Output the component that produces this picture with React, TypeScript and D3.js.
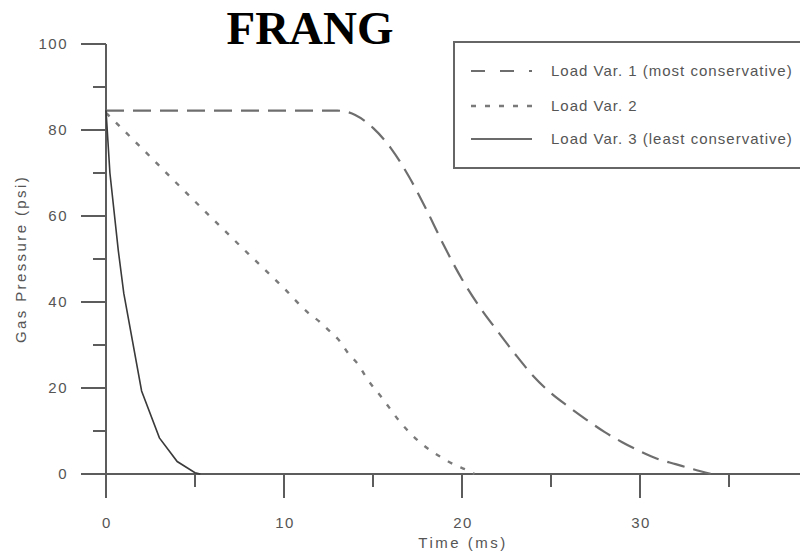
import React, { useEffect, useRef } from "react";
import * as d3 from "d3";

// Gas pressure histories (time in ms, pressure in psi)
const var1Time = [0, 13, 14, 15, 16, 17, 18, 19, 20, 21, 22, 23, 24, 25, 26, 27, 28, 29, 30, 31, 32, 33, 34];
const var1Pressure = [84.5, 84.5, 83.5, 80.5, 75.8, 69.3, 61.5, 53, 45.3, 38.8, 33.2, 27.8, 22.8, 18.8, 15.6, 12.6, 9.8, 7.4, 5.3, 3.5, 2.3, 1.1, 0];

const var2Time = [0, 2, 4, 6, 8, 10, 11.3, 12, 12.6, 13.15, 13.6, 14.2, 14.6, 15.6, 16.5, 17.6, 18.95, 19.7, 20.45, 20.7];
const var2Pressure = [84, 75.8, 67.5, 59.3, 51.2, 43.2, 37.7, 35.4, 33.1, 30.8, 28.1, 25.3, 22.6, 17.2, 12.2, 7.5, 3.6, 1.9, 0.6, 0];

const var3Time = [0, 0.22, 0.69, 1, 2, 3, 4, 5, 5.3];
const var3Pressure = [84.6, 70, 52, 42, 19.3, 8.4, 2.9, 0.3, 0];

const seriesNames = [
  "Load Var. 1 (most conservative)",
  "Load Var. 2",
  "Load Var. 3 (least conservative)",
];

const xMajorTicks = [0, 10, 20, 30];
const xMinorTicks = [5, 15, 25, 35];
const yMajorTicks = [0, 20, 40, 60, 80, 100];
const yMinorTicks = [10, 30, 50, 70, 90];

const titleText = "FRANG";
const xLabel = "Time (ms)";
const yLabel = "Gas Pressure (psi)";

export default function App() {
  const ref = useRef<SVGSVGElement>(null);

  useEffect(() => {
    const svg = d3.select(ref.current);
    svg.selectAll("*").remove();

    const x = d3.scaleLinear().domain([0, 40]).range([106, 818]);
    const y = d3.scaleLinear().domain([0, 100]).range([474, 44]);

    const axisColor = "#5c5c5c";
    const textColor = "#555";
    const font = "'Liberation Sans', Arial, sans-serif";

    svg.append("rect").attr("width", 800).attr("height", 555).attr("fill", "#fff");

    // Title
    svg
      .append("text")
      .attr("x", 310)
      .attr("y", 44)
      .attr("text-anchor", "middle")
      .attr("font-family", "'Liberation Serif', 'Times New Roman', serif")
      .attr("font-weight", "bold")
      .attr("font-size", 47)
      .attr("fill", "#000")
      .text(titleText);

    const g = svg.append("g");

    // Y axis line and ticks
    g.append("line")
      .attr("x1", x(0)).attr("x2", x(0))
      .attr("y1", y(100)).attr("y2", y(0) + 24)
      .attr("stroke", axisColor).attr("stroke-width", 2);

    g.selectAll(".ymaj")
      .data(yMajorTicks)
      .join("line")
      .attr("x1", x(0) - 25).attr("x2", x(0))
      .attr("y1", (d) => y(d)).attr("y2", (d) => y(d))
      .attr("stroke", axisColor).attr("stroke-width", 2);

    g.selectAll(".ymin")
      .data(yMinorTicks)
      .join("line")
      .attr("x1", x(0) - 13).attr("x2", x(0))
      .attr("y1", (d) => y(d)).attr("y2", (d) => y(d))
      .attr("stroke", axisColor).attr("stroke-width", 2);

    g.selectAll(".ylab")
      .data(yMajorTicks)
      .join("text")
      .attr("x", 68)
      .attr("y", (d) => y(d))
      .attr("dy", "0.35em")
      .attr("text-anchor", "end")
      .attr("font-family", font)
      .attr("font-size", 15)
      .attr("letter-spacing", 1.5)
      .attr("fill", textColor)
      .text((d) => String(d));

    // X axis line and ticks
    g.append("line")
      .attr("x1", x(0) - 25).attr("x2", 800)
      .attr("y1", y(0)).attr("y2", y(0))
      .attr("stroke", axisColor).attr("stroke-width", 2);

    g.selectAll(".xmaj")
      .data(xMajorTicks)
      .join("line")
      .attr("x1", (d) => x(d)).attr("x2", (d) => x(d))
      .attr("y1", y(0)).attr("y2", y(0) + 24)
      .attr("stroke", axisColor).attr("stroke-width", 2);

    g.selectAll(".xmin")
      .data(xMinorTicks)
      .join("line")
      .attr("x1", (d) => x(d)).attr("x2", (d) => x(d))
      .attr("y1", y(0)).attr("y2", y(0) + 13)
      .attr("stroke", axisColor).attr("stroke-width", 2);

    g.selectAll(".xlab")
      .data(xMajorTicks)
      .join("text")
      .attr("x", (d) => x(d) + 1)
      .attr("y", 523)
      .attr("dy", "0.35em")
      .attr("text-anchor", "middle")
      .attr("font-family", font)
      .attr("font-size", 15)
      .attr("letter-spacing", 1.5)
      .attr("fill", textColor)
      .text((d) => String(d));

    // Axis titles
    g.append("text")
      .attr("x", x(20) + 1)
      .attr("y", 543)
      .attr("dy", "0.35em")
      .attr("text-anchor", "middle")
      .attr("font-family", font)
      .attr("font-size", 15)
      .attr("letter-spacing", 2.5)
      .attr("fill", textColor)
      .text(xLabel);

    g.append("text")
      .attr("transform", `translate(21, ${y(50)}) rotate(-90)`)
      .attr("dy", "0.35em")
      .attr("text-anchor", "middle")
      .attr("font-family", font)
      .attr("font-size", 15)
      .attr("letter-spacing", 2.4)
      .attr("fill", textColor)
      .text(yLabel);

    // Curves
    const makeLine = (curve: d3.CurveFactory) =>
      d3
        .line<[number, number]>()
        .x((d) => x(d[0]))
        .y((d) => y(d[1]))
        .curve(curve);

    const var1 = var1Time.map((t, i) => [t, var1Pressure[i]] as [number, number]);
    const var2 = var2Time.map((t, i) => [t, var2Pressure[i]] as [number, number]);
    const var3 = var3Time.map((t, i) => [t, var3Pressure[i]] as [number, number]);

    const styles = [
      { stroke: "#6e6e6e", width: 2.2, dash: "18 9", legendDash: "14 15" },
      { stroke: "#7a7a7a", width: 2.4, dash: "5 9", legendDash: "5 9" },
      { stroke: "#3a3a3a", width: 1.6, dash: null as string | null, legendDash: null as string | null },
    ];

    g.append("path")
      .attr("d", makeLine(d3.curveMonotoneX)(var1) as string)
      .attr("fill", "none")
      .attr("stroke", styles[0].stroke)
      .attr("stroke-width", styles[0].width)
      .attr("stroke-dasharray", styles[0].dash);

    g.append("path")
      .attr("d", makeLine(d3.curveMonotoneX)(var2) as string)
      .attr("fill", "none")
      .attr("stroke", styles[1].stroke)
      .attr("stroke-width", styles[1].width)
      .attr("stroke-dasharray", styles[1].dash);

    g.append("path")
      .attr("d", makeLine(d3.curveLinear)(var3) as string)
      .attr("fill", "none")
      .attr("stroke", styles[2].stroke)
      .attr("stroke-width", styles[2].width);

    // Legend
    const legend = svg.append("g");
    legend
      .append("rect")
      .attr("x", 454)
      .attr("y", 42)
      .attr("width", 360)
      .attr("height", 126)
      .attr("fill", "#fff")
      .attr("stroke", "#666")
      .attr("stroke-width", 2);

    const rowY = [71, 106, 139];
    seriesNames.forEach((name, i) => {
      const s = styles[i];
      const line = legend
        .append("line")
        .attr("x1", 471)
        .attr("x2", 532)
        .attr("y1", rowY[i])
        .attr("y2", rowY[i])
        .attr("stroke", s.stroke)
        .attr("stroke-width", s.width);
      if (s.legendDash) line.attr("stroke-dasharray", s.legendDash);
      legend
        .append("text")
        .attr("x", 551)
        .attr("y", rowY[i])
        .attr("dy", "0.35em")
        .attr("font-family", font)
        .attr("font-size", 15)
        .attr("letter-spacing", 1)
        .attr("fill", textColor)
        .text(name);
    });
  }, []);

  return (
    <svg
      ref={ref}
      width={800}
      height={555}
      style={{ position: "absolute", left: 0, top: 0, display: "block" }}
    />
  );
}
